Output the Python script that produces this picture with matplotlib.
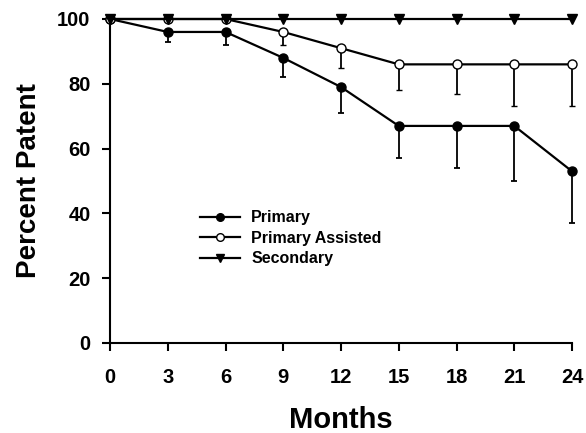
import numpy as np
import matplotlib
matplotlib.use("Agg")
import matplotlib.pyplot as plt
from matplotlib.lines import Line2D

plt.rcParams['font.family'] = ['Liberation Sans', 'DejaVu Sans']
plt.rcParams['font.weight'] = 'bold'

# data
months = [0, 3, 6, 9, 12, 15, 18, 21, 24]
primary = [100, 96, 96, 88, 79, 67, 67, 67, 53]
primary_err = [0, 3, 4, 6, 8, 10, 13, 17, 16]        # lower error only
assisted = [100, 100, 100, 96, 91, 86, 86, 86, 86]
assisted_err = [0, 0, 0, 4, 6, 8, 9, 13, 13]        # lower error only
secondary = [100, 100, 100, 100, 100, 100, 100, 100, 100]

fig = plt.figure(figsize=(5.86, 4.33), dpi=100)
ax = fig.add_axes([110 / 586, 1 - 343 / 433, 462 / 586, 324 / 433])

zeros = [0] * len(months)
ax.errorbar(months, primary, yerr=[primary_err, zeros], color='black', lw=1.6,
            marker='o', ms=6.5, mfc='black', mec='black', capsize=2.5,
            elinewidth=1.3, capthick=1.3, clip_on=False, zorder=3)
ax.errorbar(months, assisted, yerr=[assisted_err, zeros], color='black', lw=1.6,
            marker='o', ms=6.5, mfc='white', mec='black', mew=1.0, capsize=2.5,
            elinewidth=1.3, capthick=1.3, clip_on=False, zorder=4)
ax.plot(months, secondary, color='black', lw=1.6, marker='v', ms=6.5,
        clip_on=False, zorder=5)

ax.set_xlim(0, 24)
ax.set_ylim(0, 100)
ax.set_xticks(months)
ax.set_yticks([0, 20, 40, 60, 80, 100])
ax.spines['top'].set_visible(False)
ax.spines['right'].set_visible(False)
ax.spines['left'].set_linewidth(1.5)
ax.spines['bottom'].set_linewidth(1.5)
ax.tick_params(axis='both', direction='out', length=6, width=1.5, labelsize=14.5)
ax.tick_params(axis='x', pad=12)
ax.tick_params(axis='y', pad=8)
for lab in ax.get_xticklabels() + ax.get_yticklabels():
    lab.set_fontweight('bold')

ax.set_xlabel('Months', fontsize=21, fontweight='bold', labelpad=14)
ax.set_ylabel('Percent Patent', fontsize=20, fontweight='bold', labelpad=11)

handles = [
    Line2D([], [], color='black', lw=1.6, marker='o', ms=5.5, mfc='black'),
    Line2D([], [], color='black', lw=1.6, marker='o', ms=5.5, mfc='white', mew=1.0),
    Line2D([], [], color='black', lw=1.6, marker='v', ms=5.5),
]
labels = ['Primary', 'Primary Assisted', 'Secondary']
leg = ax.legend(handles, labels, loc='upper left', bbox_to_anchor=(0.195, 0.41),
                frameon=False, fontsize=11.5, handlelength=2.5, handletextpad=0.7,
                borderpad=0, borderaxespad=0, labelspacing=0.35)
for t in leg.get_texts():
    t.set_fontweight('bold')

fig.savefig('out.png', dpi=100)
